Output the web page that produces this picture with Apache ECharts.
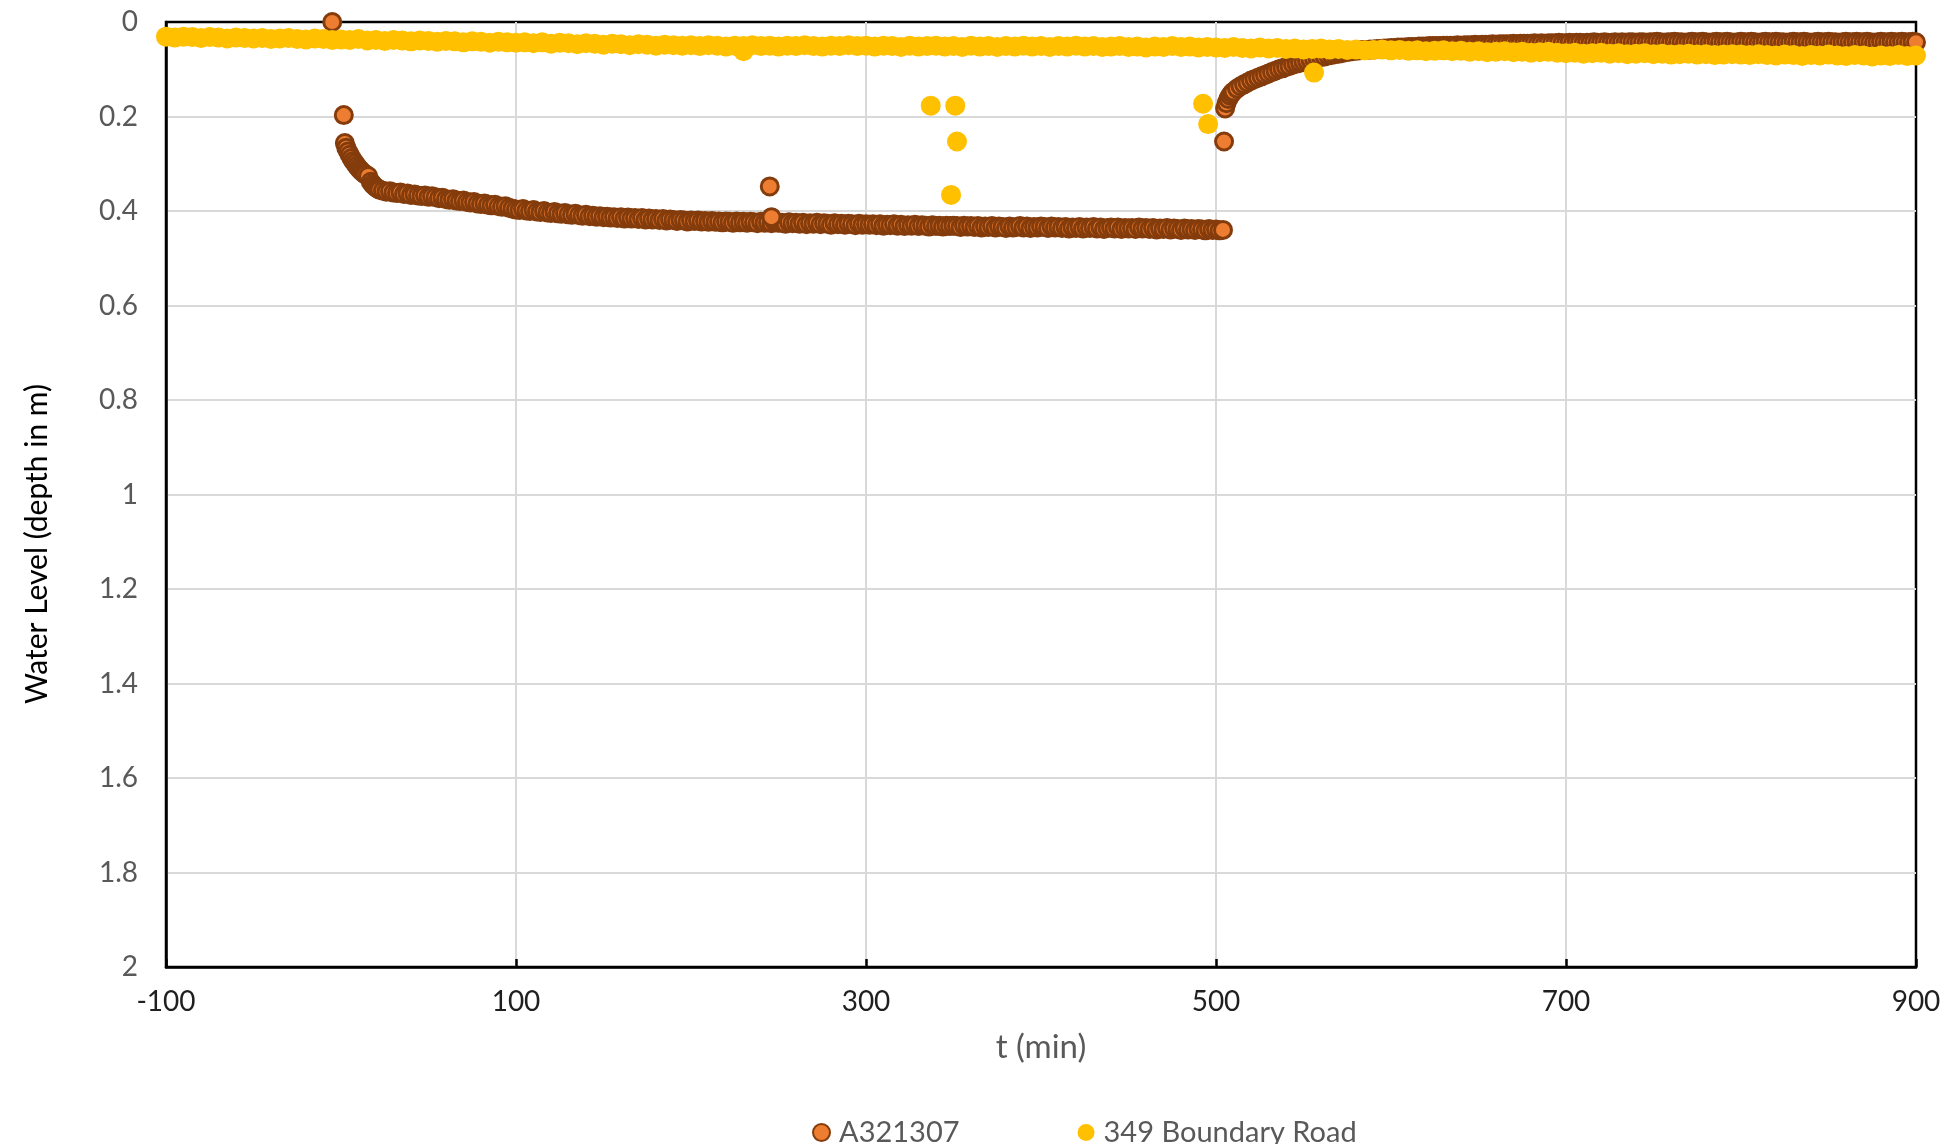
<!DOCTYPE html>
<html><head><meta charset="utf-8">
<script src="https://cdn.jsdelivr.net/npm/echarts@6/dist/echarts.min.js"></script>
<style>html,body{margin:0;padding:0;background:#fff}#c{width:1946px;height:1144px}</style>
</head><body><div id="c"></div><script>
// ---- Axis settings ----
const X_MIN = -100, X_MAX = 900, X_STEP = 200;
const Y_MIN = 0, Y_MAX = 2, Y_STEP = 0.2;
const seriesNames = ['A321307', '349 Boundary Road'];

// ---- A321307 ----
const a_early_t = [-5,1.6,2.2,3,4,5,6,7,8,9,10,11,12,13,14,15.5,17,18,19,20,21,22];
const a_early_v = [0,.197,.256,.266,.274,.281,.288,.294,.299,.304,.309,.313,.317,.320,.323,.326,.338,.343,.347,.350,.353,.355];

const a_band_t = [24,26,28,30,32,34,36,38,40,42,44,46,48,50,52,54,56,58,60,
62,64,66,68,70,72,74,76,78,80,82,84,86,88,90,92,94,96,98,100,
102,104,106,108,110,112,114,116,118,120,122,124,126,128,130,132,134,136,138,140,142,144,146,148,150,
152,154,156,158,160,162,164,166,168,170,172,174,176,178,180,182,184,186,188,190,192,194,196,198,200,
202,204,206,208,210,212,214,216,218,220,222,224,226,228,230,232,234,236,238,240,242,244,246,248,250,
252,254,256,258,260,262,264,266,268,270,272,274,276,278,280,282,284,286,288,290,292,294,296,298,300,
302,304,306,308,310,312,314,316,318,320,322,324,326,328,330,332,334,336,338,340,342,344,346,348,350,
352,354,356,358,360,362,364,366,368,370,372,374,376,378,380,382,384,386,388,390,392,394,396,398,400,
402,404,406,408,410,412,414,416,418,420,422,424,426,428,430,432,434,436,438,440,442,444,446,448,450,
452,454,456,458,460,462,464,466,468,470,472,474,476,478,480,482,484,486,488,490,492,494,496,498,500,502,504];
const a_band_v = [.357,.359,.358,.361,.362,.361,.364,.363,.366,.365,.367,.368,.367,.370,.369,.371,.373,.372,.375,
.376,.375,.378,.379,.378,.381,.382,.381,.384,.385,.384,.387,.388,.387,.390,.391,.390,.393,.395,.397,
.398,.396,.399,.400,.398,.401,.402,.400,.403,.404,.402,.405,.406,.404,.407,.408,.406,.409,.410,.408,.411,.410,.412,.411,.413,
.412,.414,.413,.415,.413,.416,.414,.416,.415,.417,.415,.418,.416,.418,.417,.419,.417,.420,.418,.419,.421,.419,.420,.422,.420,
.421,.420,.422,.421,.423,.421,.423,.422,.424,.422,.423,.425,.422,.424,.423,.425,.423,.424,.426,.423,.425,.424,.426,.424,.425,
.425,.427,.424,.426,.425,.427,.425,.428,.426,.427,.425,.428,.426,.427,.429,.426,.428,.427,.429,.427,.428,.430,.427,.429,.428,
.429,.428,.430,.428,.431,.429,.430,.428,.431,.429,.432,.430,.431,.429,.432,.430,.431,.433,.430,.432,.431,.433,.431,.432,.431,
.432,.434,.431,.433,.432,.434,.432,.435,.433,.434,.432,.435,.433,.434,.436,.433,.435,.434,.432,.435,.433,.436,.434,.435,.433,
.434,.436,.433,.435,.434,.436,.434,.437,.435,.436,.434,.437,.435,.436,.434,.437,.435,.438,.436,.435,.437,.435,.438,.436,.437,
.436,.438,.435,.437,.436,.438,.436,.439,.437,.438,.436,.439,.437,.438,.440,.437,.439,.438,.440,.438,.439,.441,.438,.440,.439,.441,.440];

const a_odd_t = [245,246];
const a_odd_v = [.348,.413];

const a_rec_t = [504.6,505.2,506,507,508,509,510,512,514,516,518,520,522,524,526,528,530,532,534,536,538,540,542,544,546,548,550,552,554,556,558,560,562,564,566,568,570,572,574,576,578,580];
const a_rec_v = [.253,.183,.172,.163,.156,.151,.147,.141,.136,.132,.128,.124,.121,.118,.115,.112,.109,.106,.103,.100,.098,.095,.093,.090,.088,.086,.084,.082,.080,.078,.076,.074,.073,.071,.070,.068,.067,.066,.064,.063,.062,.061];

const a_late_t = [582,584,586,588,590,592,594,596,598,600,
602,604,606,608,610,612,614,616,618,620,
622,624,626,628,630,632,634,636,638,640,
642,644,646,648,650,652,654,656,658,660,
662,664,666,668,670,672,674,676,678,680,
682,684,686,688,690,692,694,696,698,700,
702,704,706,708,710,712,714,716,718,720,
722,724,726,728,730,732,734,736,738,740,
742,744,746,748,750,752,754,756,758,760,
762,764,766,768,770,772,774,776,778,780,
782,784,786,788,790,792,794,796,798,800,
802,804,806,808,810,812,814,816,818,820,
822,824,826,828,830,832,834,836,838,840,
842,844,846,848,850,852,854,856,858,860,
862,864,866,868,870,872,874,876,878,880,
882,884,886,888,890,892,894,896,898,900];
const a_late_v = [.060,.059,.059,.058,.058,.057,.057,.056,.056,.055,
.055,.054,.054,.054,.053,.053,.053,.052,.052,.052,
.051,.051,.051,.051,.050,.050,.050,.050,.049,.050,
.049,.049,.049,.048,.049,.048,.048,.048,.047,.048,
.047,.047,.047,.047,.046,.047,.046,.046,.046,.046,
.045,.046,.045,.046,.045,.045,.045,.044,.045,.045,
.044,.045,.044,.044,.045,.044,.044,.043,.044,.044,
.043,.044,.044,.043,.044,.043,.044,.043,.043,.044,
.043,.043,.044,.043,.043,.042,.043,.044,.043,.043,
.042,.043,.043,.044,.043,.042,.043,.043,.042,.043,
.044,.043,.042,.043,.043,.042,.043,.044,.043,.042,
.043,.043,.042,.043,.044,.043,.042,.043,.043,.042,
.043,.043,.044,.043,.042,.043,.043,.042,.043,.044,
.043,.042,.043,.043,.042,.043,.043,.044,.043,.042,
.043,.043,.042,.043,.043,.042,.043,.044,.043,.042,
.043,.043,.042,.043,.043,.042,.043,.043,.042,.043];

// ---- 349 Boundary Road ----
const b_t = [-100,-95,-90,-85,-80,-75,-70,-65,-60,-55,-50,-45,-40,-35,-30,-25,-20,-15,-10,-5,
0,5,10,15,20,25,30,35,40,45,50,55,60,65,70,75,80,85,90,95,
100,105,110,115,120,125,130,135,140,145,150,155,160,165,170,175,180,185,190,195,
200,205,210,215,220,225,230,235,240,245,250,255,260,265,270,275,280,285,290,295,
300,305,310,315,320,325,330,335,340,345,350,355,360,365,370,375,380,385,390,395,
400,405,410,415,420,425,430,435,440,445,450,455,460,465,470,475,480,485,490,495,
500,505,510,515,520,525,530,535,540,545,550,555,560,565,570,575,580,585,590,595,
600,605,610,615,620,625,630,635,640,645,650,655,660,665,670,675,680,685,690,695,
700,705,710,715,720,725,730,735,740,745,750,755,760,765,770,775,780,785,790,795,
800,805,810,815,820,825,830,835,840,845,850,855,860,865,870,875,880,885,890,895,900];
const b_v = [.031,.033,.031,.032,.034,.032,.033,.035,.033,.034,.035,.034,.036,.035,.034,.036,.037,.035,.036,.038,
.037,.038,.036,.039,.038,.040,.038,.039,.041,.039,.040,.042,.040,.041,.043,.041,.042,.044,.042,.043,
.044,.043,.045,.043,.046,.044,.045,.047,.045,.046,.048,.046,.047,.049,.047,.048,.050,.048,.049,.050,
.049,.051,.049,.050,.052,.050,.051,.049,.051,.050,.052,.050,.051,.049,.051,.052,.050,.051,.049,.051,
.050,.052,.050,.051,.053,.050,.052,.051,.050,.052,.051,.053,.050,.052,.051,.053,.051,.052,.050,.052,
.051,.053,.051,.052,.050,.052,.051,.053,.052,.051,.053,.052,.054,.052,.053,.051,.053,.052,.054,.053,
.054,.055,.053,.055,.056,.054,.056,.055,.057,.056,.058,.057,.056,.058,.057,.059,.058,.060,.059,.058,
.060,.059,.061,.060,.062,.061,.060,.062,.061,.063,.062,.064,.063,.062,.064,.063,.065,.064,.063,.065,
.066,.065,.067,.066,.065,.067,.066,.068,.067,.066,.068,.067,.069,.068,.067,.069,.068,.070,.069,.068,
.069,.070,.068,.070,.071,.069,.070,.072,.070,.071,.069,.071,.072,.070,.071,.073,.071,.072,.070,.072,.071];
const b_odd_t = [230,337,348.6,351,352,492.6,495.5,556];
const b_odd_v = [.062,.177,.366,.177,.253,.173,.216,.107];

// ---- build ----
function pairs(t, v) { return t.map((x, i) => [x, v[i]]); }
const aData = [].concat(pairs(a_early_t, a_early_v), pairs(a_band_t, a_band_v), pairs(a_odd_t, a_odd_v),
                        pairs(a_rec_t, a_rec_v), pairs(a_late_t, a_late_v));
const bData = [].concat(pairs(b_t, b_v), pairs(b_odd_t, b_odd_v));

const FONT = 'Lato';
const chart = echarts.init(document.getElementById('c'), null, {renderer: 'canvas'});
chart.setOption({
  animation: false,
  backgroundColor: '#fff',
  grid: {left: 166, right: 30, top: 22, bottom: 177, show: true, borderColor: '#000', borderWidth: 2.5, backgroundColor: 'transparent'},
  xAxis: {
    type: 'value', min: X_MIN, max: X_MAX, interval: X_STEP,
    name: 't (min)', nameLocation: 'middle', nameGap: 64,
    nameTextStyle: {color: '#595959', fontSize: 33, fontFamily: FONT},
    axisLine: {show: true, onZero: false, lineStyle: {color: '#000', width: 2.5}},
    axisTick: {show: true, inside: true, length: 8, lineStyle: {color: '#000', width: 2.5}},
    axisLabel: {color: '#1f1f1f', fontSize: 28, fontFamily: FONT, margin: 21},
    splitLine: {show: true, showMinLine: false, showMaxLine: false, lineStyle: {color: '#d9d9d9', width: 2}}
  },
  yAxis: {
    type: 'value', min: Y_MIN, max: Y_MAX, interval: Y_STEP, inverse: true,
    axisLine: {show: true, onZero: false, lineStyle: {color: '#000', width: 2.5}},
    axisTick: {show: false},
    axisLabel: {color: '#595959', fontSize: 28, fontFamily: FONT, margin: 28},
    splitLine: {show: true, showMinLine: false, showMaxLine: false, lineStyle: {color: '#d9d9d9', width: 2}}
  },
  legend: {
    left: 807, top: 1113, itemGap: 118, itemWidth: 17, itemHeight: 17, icon: 'circle',
    textStyle: {color: '#595959', fontSize: 29, fontFamily: FONT, padding: [0, 0, 0, 4]},
    data: seriesNames
  },
  graphic: [{
    type: 'text', x: 37, y: 544, rotation: Math.PI / 2,
    style: {text: 'Water Level (depth in m)', fill: '#000', font: '30px ' + FONT,
            textAlign: 'center', textVerticalAlign: 'middle', align: 'center', verticalAlign: 'middle'}
  }],
  series: [
    {name: seriesNames[0], type: 'scatter', data: aData, symbol: 'circle', symbolSize: 17, clip: false,
     itemStyle: {color: '#ED7D31', borderColor: '#843C0C', borderWidth: 3, opacity: 1}},
    {name: seriesNames[1], type: 'scatter', data: bData, symbol: 'circle', symbolSize: 20, clip: false,
     itemStyle: {color: '#FFC000', opacity: 1}}
  ]
});
</script></body></html>
